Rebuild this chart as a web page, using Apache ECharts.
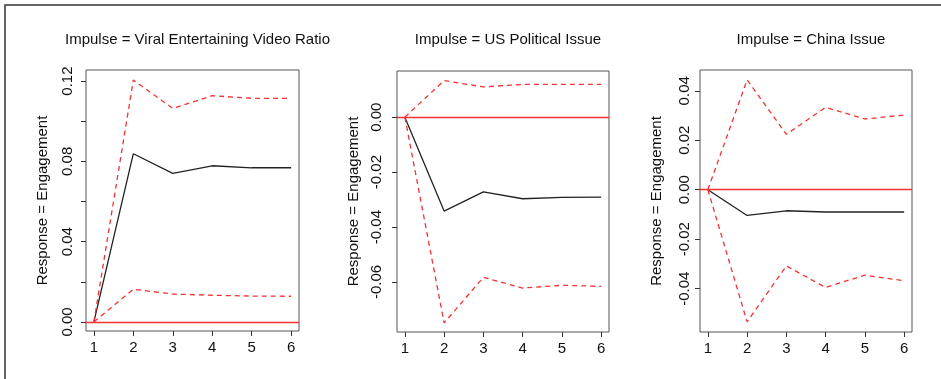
<!DOCTYPE html>
<html>
<head>
<meta charset="utf-8">
<script src="https://cdn.jsdelivr.net/npm/echarts@6/dist/echarts.min.js"></script>
<style>
  html, body { margin: 0; padding: 0; background: #fff; }
  #chart { width: 941px; height: 379px; }
</style>
</head>
<body>
<div id="chart"></div>
<script>
  // forecast horizon
  const steps = [1, 2, 3, 4, 5, 6];

  // Impulse = Viral Entertaining Video Ratio
  const viralIrf   = [0, 0.0838, 0.0740, 0.0778, 0.0768, 0.0768];
  const viralLower = [0, 0.0163, 0.0139, 0.0133, 0.0129, 0.0128];
  const viralUpper = [0, 0.1205, 0.1064, 0.1127, 0.1114, 0.1114];

  // Impulse = US Political Issue
  const usIrf   = [0, -0.0342, -0.0272, -0.0297, -0.0292, -0.0291];
  const usLower = [0, -0.0749, -0.0583, -0.0622, -0.0612, -0.0616];
  const usUpper = [0, 0.0133, 0.0110, 0.0119, 0.0119, 0.0119];

  // Impulse = China Issue
  const chinaIrf   = [0, -0.0104, -0.0085, -0.0090, -0.0090, -0.0090];
  const chinaLower = [0, -0.0534, -0.0308, -0.0395, -0.0345, -0.0368];
  const chinaUpper = [0, 0.0444, 0.0224, 0.0333, 0.0286, 0.0302];

  // tick marks and tick labels
  const viralTicks  = [0, 0.02, 0.04, 0.06, 0.08, 0.10, 0.12];
  const viralLabels = [0, 0.04, 0.08, 0.12];
  const usTicks  = [-0.06, -0.04, -0.02, 0];
  const usLabels = [-0.06, -0.04, -0.02, 0];
  const chinaTicks  = [-0.04, -0.02, 0, 0.02, 0.04];
  const chinaLabels = [-0.04, -0.02, 0, 0.02, 0.04];

  const titles = ['Impulse = Viral Entertaining Video Ratio', 'Impulse = US Political Issue', 'Impulse = China Issue'];
  const yName = 'Response = Engagement';

  const font = '"Liberation Sans", Arial, sans-serif';
  const red = '#f23333';
  const ink = '#111';

  const panels = [
    {irf: viralIrf, lo: viralLower, hi: viralUpper, ticks: viralTicks, labels: viralLabels,
     min: -0.0045, max: 0.1255, left: 86, top: 70, width: 213, height: 261, labMargin: 11},
    {irf: usIrf, lo: usLower, hi: usUpper, ticks: usTicks, labels: usLabels,
     min: -0.0782, max: 0.0168, left: 397, top: 71, width: 212, height: 261, labMargin: 13},
    {irf: chinaIrf, lo: chinaLower, hi: chinaUpper, ticks: chinaTicks, labels: chinaLabels,
     min: -0.0575, max: 0.0484, left: 700, top: 70, width: 212, height: 262, labMargin: 8}
  ];

  const pair = arr => arr.map((v, i) => [steps[i], v]);

  let grid = [], xAxis = [], yAxis = [], series = [], title = [];

  panels.forEach((p, i) => {
    grid.push({
      left: p.left, top: p.top, width: p.width, height: p.height,
      show: true, borderColor: '#555', borderWidth: 1, backgroundColor: 'transparent'
    });
    title.push({
      text: titles[i],
      left: p.left + p.width / 2, top: 27, textAlign: 'center',
      textStyle: {fontFamily: font, fontSize: 15, fontWeight: 'normal', color: ink}
    });
    xAxis.push({
      type: 'value', gridIndex: i, min: 0.8, max: 6.2,
      splitLine: {show: false},
      axisLine: {show: false, onZero: false},
      axisTick: {show: true, length: 5, customValues: steps, lineStyle: {color: '#333'}},
      axisLabel: {
        customValues: steps, margin: 9, fontFamily: font, fontSize: 15, color: ink
      }
    });
    yAxis.push({
      type: 'value', gridIndex: i, min: p.min, max: p.max,
      name: yName, nameLocation: 'middle', nameGap: 36, nameRotate: 90,
      nameTextStyle: {fontFamily: font, fontSize: 15, color: ink},
      splitLine: {show: false},
      axisLine: {show: false, onZero: false},
      axisTick: {show: true, length: 5, customValues: p.ticks, lineStyle: {color: '#333'}},
      axisLabel: {
        customValues: p.labels, rotate: 90, margin: p.labMargin,
        fontFamily: font, fontSize: 15, color: ink,
        formatter: v => v.toFixed(2)
      }
    });
    series.push({
      type: 'line', xAxisIndex: i, yAxisIndex: i, data: pair(p.irf),
      symbol: 'none', lineStyle: {color: '#222', width: 1.3}, z: 3
    });
    series.push({
      type: 'line', xAxisIndex: i, yAxisIndex: i, data: pair(p.lo),
      symbol: 'none', lineStyle: {color: red, width: 1.3, type: [5, 4]}, z: 4
    });
    series.push({
      type: 'line', xAxisIndex: i, yAxisIndex: i, data: pair(p.hi),
      symbol: 'none', lineStyle: {color: red, width: 1.3, type: [5, 4]}, z: 4,
      markLine: {
        silent: true, symbol: ['none', 'none'], label: {show: false},
        lineStyle: {color: red, type: 'solid', width: 1.3, opacity: 1},
        emphasis: {disabled: true},
        data: [{yAxis: 0}]
      }
    });
  });

  const chart = echarts.init(document.getElementById('chart'));
  chart.setOption({
    animation: false,
    backgroundColor: '#fff',
    title: title,
    grid: grid,
    xAxis: xAxis,
    yAxis: yAxis,
    series: series,
    graphic: [{
      type: 'rect', silent: true,
      shape: {x: 5, y: 5, width: 1000, height: 500},
      style: {fill: 'none', stroke: '#333', lineWidth: 1.5}
    }]
  });
</script>
</body>
</html>
